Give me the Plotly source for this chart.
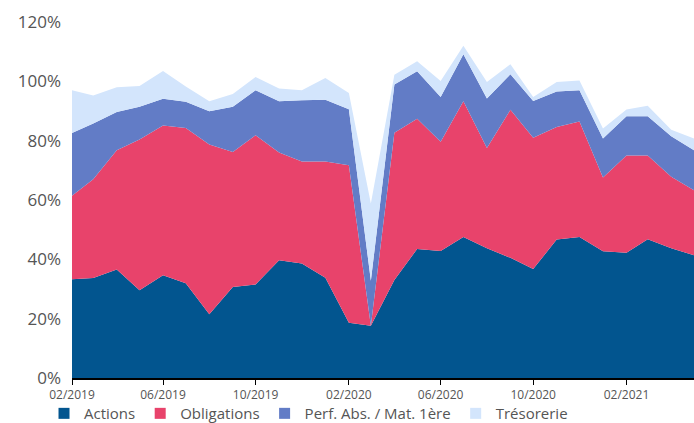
import plotly.graph_objects as go

months = ["2019-02-01","2019-03-01","2019-04-01","2019-05-01","2019-06-01","2019-07-01","2019-08-01",
          "2019-09-01","2019-10-01","2019-11-01","2019-12-01","2020-01-01","2020-02-01","2020-03-01",
          "2020-04-01","2020-05-01","2020-06-01","2020-07-01","2020-08-01","2020-09-01","2020-10-01",
          "2020-11-01","2020-12-01","2021-01-01","2021-02-01","2021-03-01","2021-04-01","2021-05-01"]

actions = [33.3,33.7,36.6,29.6,34.6,31.9,21.5,30.7,31.5,39.7,38.6,33.8,18.6,17.6,
           33.0,43.5,42.8,47.5,43.7,40.5,36.7,46.7,47.5,42.7,42.2,46.8,43.7,41.4]
obligations = [28.1,33.3,40.2,50.8,50.5,52.4,57.2,45.5,50.3,36.3,34.4,39.2,53.1,0.0,
               49.7,43.9,36.8,45.8,33.8,49.9,44.3,37.9,39.0,24.9,32.8,28.2,24.1,21.9]
perf_abs = [21.2,18.8,12.9,11.0,9.0,8.8,11.2,15.2,15.2,17.3,20.6,20.8,18.9,15.2,
            16.2,16.0,15.1,15.8,16.7,12.0,12.4,12.0,10.5,13.1,13.2,13.2,13.7,13.5]
tresorerie = [14.4,9.4,8.3,7.0,9.4,5.2,3.4,4.3,4.5,4.3,3.4,7.3,5.5,26.0,
              3.3,3.4,5.4,2.9,5.6,3.4,1.3,3.2,3.3,3.4,2.3,3.6,2.2,3.9]

names = ["Actions", "Obligations", "Perf. Abs. / Mat. 1ère", "Trésorerie"]
colors = ["#02558F", "#E8436B", "#627CC6", "#D3E5FC"]
series = [actions, obligations, perf_abs, tresorerie]

fig = go.Figure()
for name, col, vals in zip(names, colors, series):
    fig.add_trace(go.Scatter(x=months, y=vals, name=name, stackgroup="one", mode="lines",
                             line=dict(width=0, color=col), fillcolor=col,
                             showlegend=False, hoverinfo="skip"))
for name, col in zip(names, colors):
    fig.add_trace(go.Scatter(x=[None], y=[None], name=name, mode="markers",
                             marker=dict(symbol="square", size=11, color=col),
                             showlegend=True))

font = "Open Sans, Lato, sans-serif"
fig.update_layout(
    width=694, height=423,
    margin=dict(l=72, r=0, t=22, b=45, autoexpand=False),
    paper_bgcolor="white", plot_bgcolor="white",
    font=dict(family=font, color="#555555"),
    legend=dict(orientation="h", x=-0.045, xanchor="left", y=-0.1, yanchor="middle",
                font=dict(size=15, color="#555555"), itemwidth=30,
                traceorder="normal", tracegroupgap=0, bgcolor="rgba(0,0,0,0)"),
    xaxis=dict(type="date", range=["2019-02-01", "2021-05-01"], dtick="M4",
               tick0="2019-02-01", tickformat="%m/%Y", showgrid=False,
               showline=True, linecolor="black", linewidth=2,
               ticks="outside", ticklen=5, tickcolor="black",
               tickfont=dict(size=12, color="#555555")),
    yaxis=dict(range=[0, 120], dtick=20, ticksuffix="%", showgrid=False,
               zeroline=False, showline=False, ticks="",
               ticklabelstandoff=10,
               tickfont=dict(size=17, color="#555555")),
)

fig.write_html("out.html", config={"displayModeBar": False},
               post_script="document.body.style.margin='0';document.body.style.overflow='hidden';")
